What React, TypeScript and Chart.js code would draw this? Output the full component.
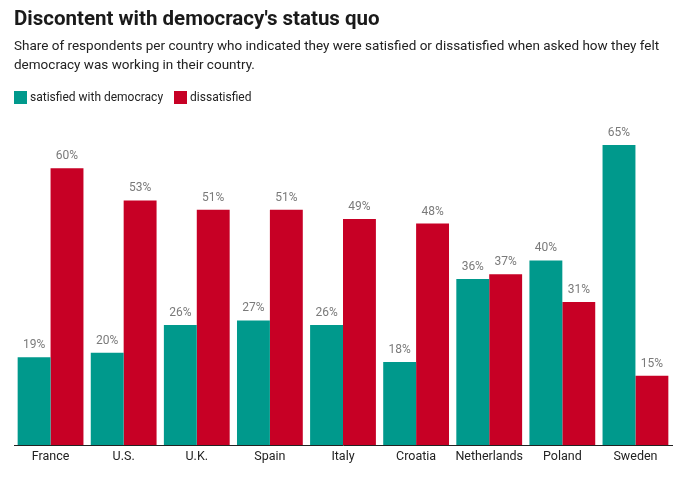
import React, { useEffect, useRef } from "react";
import { Chart, registerables } from "chart.js";

Chart.register(...registerables);

const countries = ["France", "U.S.", "U.K.", "Spain", "Italy", "Croatia", "Netherlands", "Poland", "Sweden"];
const satisfied = [19, 20, 26, 27, 26, 18, 36, 40, 65];
const dissatisfied = [60, 53, 51, 51, 49, 48, 37, 31, 15];
const seriesNames = ["satisfied with democracy", "dissatisfied"];

const TITLE = "Discontent with democracy's status quo";
const SUBTITLE_LINES = [
  "Share of respondents per country who indicated they were satisfied or dissatisfied when asked how they felt",
  "democracy was working in their country.",
];

const TEAL = "#00998c";
const RED = "#c70025";
const COLORS = [TEAL, RED];
const FONT = "Roboto";

const valueLabels = {
  id: "valueLabels",
  afterDatasetsDraw(chart: any) {
    const ctx = chart.ctx;
    ctx.save();
    ctx.font = `12px ${FONT}`;
    ctx.fillStyle = "#7a7a7a";
    ctx.textAlign = "center";
    ctx.textBaseline = "bottom";
    chart.data.datasets.forEach((ds: any, i: number) => {
      const meta = chart.getDatasetMeta(i);
      meta.data.forEach((bar: any, j: number) => {
        ctx.fillText(`${ds.data[j]}%`, bar.x, bar.y - 6);
      });
    });
    ctx.restore();
  },
};

export default function App() {
  const ref = useRef<HTMLCanvasElement>(null);
  useEffect(() => {
    const chart = new Chart(ref.current!, {
      type: "bar",
      data: {
        labels: countries,
        datasets: [
          { label: seriesNames[0], data: satisfied, backgroundColor: TEAL },
          { label: seriesNames[1], data: dissatisfied, backgroundColor: RED },
        ],
      },
      options: {
        animation: false,
        responsive: false,
        layout: { padding: { left: 14, right: 24, top: 122, bottom: 18 } },
        datasets: { bar: { categoryPercentage: 0.9, barPercentage: 1 } },
        plugins: {
          title: { display: false },
          legend: { display: false },
          tooltip: { enabled: false },
        },
        scales: {
          x: {
            grid: { display: false, drawTicks: false },
            border: { display: true, color: "#222", width: 1 },
            ticks: {
              color: "#222",
              font: { family: FONT, size: 12.5 },
              padding: 4,
              maxRotation: 0,
              minRotation: 0,
              autoSkip: false,
            },
          },
          y: {
            display: false,
            min: 0,
            max: 70,
          },
        },
      },
      plugins: [valueLabels],
    });
    return () => chart.destroy();
  }, []);
  return (
    <div style={{ position: "absolute", left: 0, top: 0, width: 696, height: 486, background: "#fff", fontFamily: FONT }}>
      <canvas ref={ref} width={696} height={486} style={{ position: "absolute", left: 0, top: 0, width: 696, height: 486 }} />
      <div style={{ position: "absolute", left: 14, top: 6, fontSize: 20.5, lineHeight: "24px", fontWeight: 700, color: "#1a1a1a", whiteSpace: "nowrap" }}>
        {TITLE}
      </div>
      <div style={{ position: "absolute", left: 14, top: 36, fontSize: 13.5, lineHeight: "18.9px", color: "#222", whiteSpace: "nowrap" }}>
        {SUBTITLE_LINES.map((l, i) => (
          <div key={i}>{l}</div>
        ))}
      </div>
      <div style={{ position: "absolute", left: 14, top: 89, height: 16, display: "flex", alignItems: "center", fontSize: 12, color: "#222", whiteSpace: "nowrap" }}>
        {seriesNames.map((n, i) => (
          <div key={n} style={{ display: "flex", alignItems: "center", marginRight: 11 }}>
            <span style={{ display: "inline-block", width: 13, height: 13, background: COLORS[i], marginRight: 3 }} />
            <span>{n}</span>
          </div>
        ))}
      </div>
    </div>
  );
}
